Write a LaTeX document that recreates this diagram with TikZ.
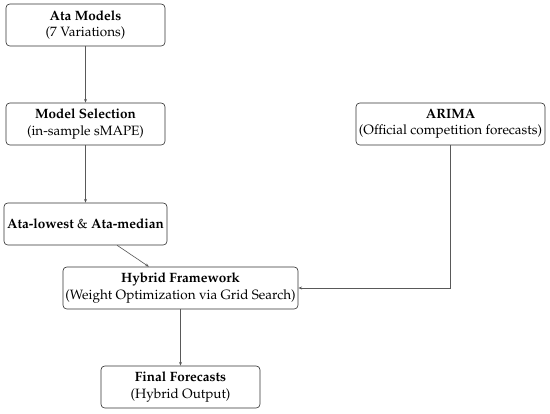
\documentclass[tikz,border=0pt]{standalone}
\usepackage[T1]{fontenc}
\usepackage{mathpazo}
\usetikzlibrary{arrows.meta}
\begin{document}
\begin{tikzpicture}[x=0.8pt,y=-0.8pt,
  box/.style={draw=black!80, line width=0.5pt, rounded corners=3pt, align=center,
    minimum height=33.6pt, inner sep=1pt, font=\fontsize{10.8}{13}\selectfont},
  conn/.style={draw=black!65, line width=0.5pt, -{Stealth[length=3pt,width=2.4pt]}}]
\useasboundingbox (0,0) rectangle (550,413);
\node[box, minimum width=127.2pt] (ata) at (85.5,25) {\textbf{Ata Models}\\(7 Variations)};
\node[box, minimum width=127.2pt] (sel) at (85.5,124) {\textbf{Model Selection}\\(in-sample sMAPE)};
\node[box, minimum width=130.4pt] (low) at (85.5,224) {\textbf{Ata-lowest} \& \textbf{Ata-median}};
\node[box, minimum width=188pt] (hyb) at (180.5,288) {\textbf{Hybrid Framework}\\(Weight Optimization via Grid Search)};
\node[box, minimum width=127.2pt] (fin) at (180.5,387) {\textbf{Final Forecasts}\\(Hybrid Output)};
\node[box, minimum width=151.2pt] (ari) at (450.5,124) {\textbf{ARIMA}\\(Official competition forecasts)};
\draw[conn] (ata) -- (sel);
\draw[conn] (sel) -- (low);
\draw[conn] (low) -- (hyb);
\draw[conn] (ari.south) |- (hyb.east);
\draw[conn] (hyb) -- (fin);
\end{tikzpicture}
\end{document}
